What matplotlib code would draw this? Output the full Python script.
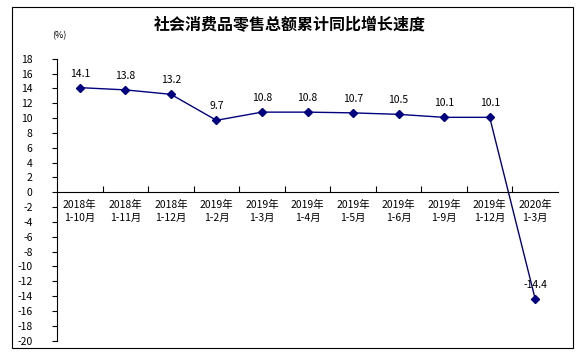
import matplotlib

matplotlib.use("Agg")
import matplotlib.pyplot as plt
from matplotlib.patches import Rectangle

plt.rcParams["font.family"] = ["Noto Sans CJK SC", "DejaVu Sans"]
plt.rcParams["axes.unicode_minus"] = False

CATEGORIAS = [
    "2018年\n1-10月", "2018年\n1-11月", "2018年\n1-12月", "2019年\n1-2月",
    "2019年\n1-3月", "2019年\n1-4月", "2019年\n1-5月", "2019年\n1-6月",
    "2019年\n1-9月", "2019年\n1-12月", "2020年\n1-3月",
]
VALORES = [14.1, 13.8, 13.2, 9.7, 10.8, 10.8, 10.7, 10.5, 10.1, 10.1, -14.4]
Y_TICKS = list(range(-20, 19, 2))

COLOR_LINEA = "#000080"

fig = plt.figure(figsize=(5.8, 3.54), dpi=100)
fig.patches.append(Rectangle((12 / 580, 1 - 348 / 354), 561 / 580, 341 / 354,
                             transform=fig.transFigure, fill=False,
                             edgecolor="black", linewidth=0.8))

ax = fig.add_axes([57 / 580, 1 - 340.7 / 354, 501 / 580, 282 / 354])
x = list(range(len(VALORES)))
ax.plot(x, VALORES, color=COLOR_LINEA, linewidth=1.0, marker="D", markersize=3.8)

for xi, v in zip(x, VALORES):
    ax.annotate(f"{v:.1f}", (xi, v), xytext=(0, 10), textcoords="offset points",
                ha="center", va="center", fontsize=7.5)

ax.set_xlim(-0.5, len(VALORES) - 0.5)
ax.set_ylim(-20, 18)
ax.set_yticks(Y_TICKS)
ax.set_yticklabels([str(t) for t in Y_TICKS], fontsize=7.5)
ax.tick_params(axis="y", direction="out", length=3.5, pad=14)

# eje x sobre el cero, marcas en los límites entre categorías
ax.spines["top"].set_visible(False)
ax.spines["right"].set_visible(False)
ax.spines["bottom"].set_position(("data", 0))
ax.set_xticks([i + 0.5 for i in x[:-1]])
ax.set_xticklabels([])
ax.tick_params(axis="x", direction="in", length=4)
for xi, etiqueta in zip(x, CATEGORIAS):
    ax.text(xi, -1.0, etiqueta, ha="center", va="top", fontsize=7.5, linespacing=1.35)

fig.text(290 / 580, 1 - 25 / 354, "社会消费品零售总额累计同比增长速度",
         ha="center", va="center", fontsize=11.5, fontweight="bold")
fig.text(59 / 580, 1 - 36 / 354, "(%)", ha="center", va="center", fontsize=6.5)

fig.savefig("out.png", dpi=100)
